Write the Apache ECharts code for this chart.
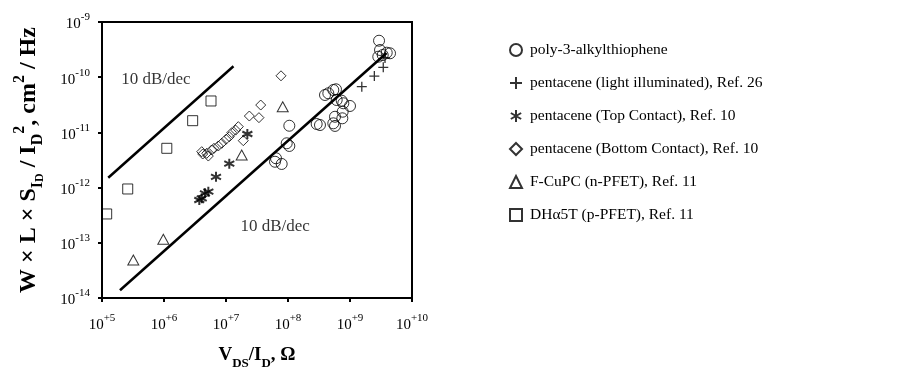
<!DOCTYPE html>
<html>
<head>
<meta charset="utf-8">
<script src="https://cdn.jsdelivr.net/npm/echarts@6/dist/echarts.min.js"></script>
<style>
  html, body { margin: 0; padding: 0; background: #fff; }
  #chart { width: 909px; height: 372px; }
</style>
</head>
<body>
<div id="chart"></div>
<script>
// [V_DS/I_D (Ohm), W*L*S/I^2 (cm^2/Hz)]
const poly3Points = [
  [2.94e9, 4.58e-10], [3.05e9, 3.11e-10], [3.37e9, 2.52e-10], [3.91e9, 2.78e-10],
  [4.42e9, 2.71e-10], [2.86e9, 2.35e-10], [3.95e8, 4.76e-11], [4.47e8, 5.11e-11],
  [5.38e8, 5.86e-11], [5.94e8, 6.04e-11], [6.10e8, 3.86e-11], [7.35e8, 3.75e-11],
  [7.80e8, 3.37e-11], [1.0e9, 3.01e-11], [7.62e8, 2.37e-11], [5.73e8, 1.92e-11],
  [7.52e8, 1.80e-11], [2.90e8, 1.42e-11], [3.28e8, 1.36e-11], [5.38e8, 1.46e-11],
  [5.73e8, 1.31e-11], [1.05e8, 1.32e-11], [9.53e7, 6.35e-12], [1.05e8, 5.68e-12],
  [6.17e7, 2.94e-12], [7.91e7, 2.68e-12], [6.40e7, 3.40e-12]
]
const lightPoints = [
  [1.55e9, 6.73e-11], [2.47e9, 1.05e-10], [3.44e9, 1.51e-10], [3.67e9, 2.23e-10]
]
const topContactPoints = [
  [2.21e7, 9.35e-12], [1.13e7, 2.71e-12], [6.90e6, 1.57e-12], [5.19e6, 8.43e-13],
  [4.58e6, 7.89e-13], [4.06e6, 6.40e-13], [3.71e6, 5.96e-13]
]
const bottomContactPoints = [
  [7.71e7, 1.06e-10], [3.63e7, 3.13e-11], [3.40e7, 1.85e-11], [2.38e7, 1.98e-11],
  [1.58e7, 1.27e-11], [1.43e7, 1.10e-11], [1.24e7, 9.89e-12], [1.13e7, 8.36e-12],
  [1.90e7, 7.08e-12], [1.0e7, 7.50e-12], [8.53e6, 6.35e-12], [7.52e6, 5.68e-12],
  [6.40e6, 5.15e-12], [5.87e6, 4.80e-12], [4.89e6, 4.18e-12], [4.06e6, 4.47e-12],
  [5.19e6, 3.73e-12], [4.21e6, 4.06e-12]
]
const fcupcPoints = [
  [3.20e5, 4.88e-14], [9.75e5, 1.16e-13], [1.79e7, 3.90e-12], [8.22e7, 2.92e-11]
]
const dh5tPoints = [
  [5.73e6, 3.71e-11], [2.90e6, 1.63e-11], [1.11e6, 5.15e-12], [2.60e5, 9.44e-13], [1.19e5, 3.33e-13]
]
// 10 dB/dec guide lines (end points)
const upperLine = [[1.26e5, 1.51e-12], [1.32e7, 1.58e-10]]
const lowerLine = [[1.95e5, 1.38e-14], [3.89e9, 2.75e-10]]
const lineLabels = [
  { value: [7.4e5, 8.9e-11], text: '10 dB/dec' },
  { value: [6.2e7, 1.95e-13], text: '10 dB/dec' }
]
const seriesNames = [
  'poly-3-alkylthiophene',
  'pentacene (light illuminated), Ref. 26',
  'pentacene (Top Contact), Ref. 10',
  'pentacene (Bottom Contact), Ref. 10',
  'F-CuPC (n-PFET), Ref. 11',
  'DH\u03b15T (p-PFET), Ref. 11'
]

const FONT = '"Liberation Serif", "Times New Roman", serif'
const PLUS = 'path://M5,0L5,10M0,5L10,5'
const ASTER = 'path://M5,0L5,10M0.7,2.5L9.3,7.5M0.7,7.5L9.3,2.5'

const hollow = { color: 'rgba(0,0,0,0)', borderColor: '#000', borderWidth: 1 }

function expLabel(value) {
  const e = Math.round(Math.log10(value))
  return '{b|10}{s|' + (e > 0 ? '+' + e : e) + '}'
}
const labelRich = {
  b: { fontFamily: FONT, fontSize: 15, color: '#000', lineHeight: 20, verticalAlign: 'bottom' },
  s: { fontFamily: FONT, fontSize: 11, color: '#000', lineHeight: 20, verticalAlign: 'top' }
}

const chart = echarts.init(document.getElementById('chart'))

const option = {
  animation: false,
  backgroundColor: '#fff',
  textStyle: { fontFamily: FONT },
  grid: {
    left: 102, right: 497, top: 22, bottom: 74,
    outerBoundsMode: 'none',
    show: true, borderColor: '#000', borderWidth: 2
  },
  legend: {
    orient: 'vertical',
    left: 504,
    top: 37,
    itemGap: 17,
    itemWidth: 12,
    itemHeight: 12,
    textStyle: { fontFamily: FONT, fontSize: 15.5, color: '#000', padding: [0, 0, 0, 3] },
    data: seriesNames
  },
  xAxis: {
    type: 'log',
    logBase: 10,
    min: 1e5,
    max: 1e10,
    splitLine: { show: false },
    axisLine: { lineStyle: { color: '#000', width: 2 } },
    axisTick: { length: 4, lineStyle: { color: '#000', width: 2 } },
    axisLabel: { margin: 15, formatter: expLabel, rich: labelRich },
    name: '{b|V}{sub|DS}{b|/I}{sub|D}{b|, \u03a9}',
    nameLocation: 'middle',
    nameGap: 48,
    nameTextStyle: {
      rich: {
        b: { fontFamily: FONT, fontSize: 19, fontWeight: 'bold', color: '#000', lineHeight: 24, verticalAlign: 'top' },
        sub: { fontFamily: FONT, fontSize: 13, fontWeight: 'bold', color: '#000', lineHeight: 24, verticalAlign: 'bottom' }
      }
    }
  },
  yAxis: {
    type: 'log',
    logBase: 10,
    min: 1e-14,
    max: 1e-9,
    splitLine: { show: false },
    axisLine: { lineStyle: { color: '#000', width: 2 } },
    axisTick: { length: 4, lineStyle: { color: '#000', width: 2 } },
    axisLabel: { margin: 12, formatter: expLabel, rich: labelRich },
    name: '{b|W \u00d7 L \u00d7 S}{sub|I}{ss|D}{b| / I}{sub|D}{sup|2}{b|, cm}{sup|2}{b| / Hz}',
    nameLocation: 'middle',
    nameGap: 56,
    nameTextStyle: {
      rich: {
        b: { fontFamily: FONT, fontSize: 24, fontWeight: 'bold', color: '#000', lineHeight: 30 },
        sub: { fontFamily: FONT, fontSize: 16, fontWeight: 'bold', color: '#000', lineHeight: 30, verticalAlign: 'bottom' },
        ss: { fontFamily: FONT, fontSize: 12, fontWeight: 'bold', color: '#000', lineHeight: 34, verticalAlign: 'bottom' },
        sup: { fontFamily: FONT, fontSize: 16, fontWeight: 'bold', color: '#000', lineHeight: 30, verticalAlign: 'top' }
      }
    }
  },
  series: [
    {
      name: seriesNames[0], type: 'scatter', data: poly3Points,
      symbol: 'circle', symbolSize: 11, itemStyle: hollow
    },
    {
      name: seriesNames[1], type: 'scatter', data: lightPoints,
      symbol: PLUS, symbolSize: 10, itemStyle: { color: 'rgba(0,0,0,0)', borderColor: '#000', borderWidth: 1.3 }
    },
    {
      name: seriesNames[2], type: 'scatter', data: topContactPoints,
      symbol: ASTER, symbolSize: 10, itemStyle: { color: 'rgba(0,0,0,0)', borderColor: '#000', borderWidth: 2 }
    },
    {
      name: seriesNames[3], type: 'scatter', data: bottomContactPoints,
      symbol: 'diamond', symbolSize: [10, 10], itemStyle: hollow
    },
    {
      name: seriesNames[4], type: 'scatter', data: fcupcPoints,
      symbol: 'triangle', symbolSize: [11, 10], itemStyle: hollow
    },
    {
      name: seriesNames[5], type: 'scatter', data: dh5tPoints,
      symbol: 'rect', symbolSize: 10, itemStyle: hollow
    },
    {
      type: 'line', data: upperLine, symbol: 'none', silent: true,
      lineStyle: { color: '#000', width: 2.5 }
    },
    {
      type: 'line', data: lowerLine, symbol: 'none', silent: true,
      lineStyle: { color: '#000', width: 2.5 }
    },
    {
      type: 'scatter', symbolSize: 0, silent: true,
      data: lineLabels.map(d => ({ value: d.value, label: { formatter: d.text } })),
      label: {
        show: true, position: 'inside',
        fontFamily: FONT, fontSize: 17, color: '#000'
      }
    }
  ]
}

chart.setOption(option)
window.addEventListener('resize', () => chart.resize())
</script>
</body>
</html>
